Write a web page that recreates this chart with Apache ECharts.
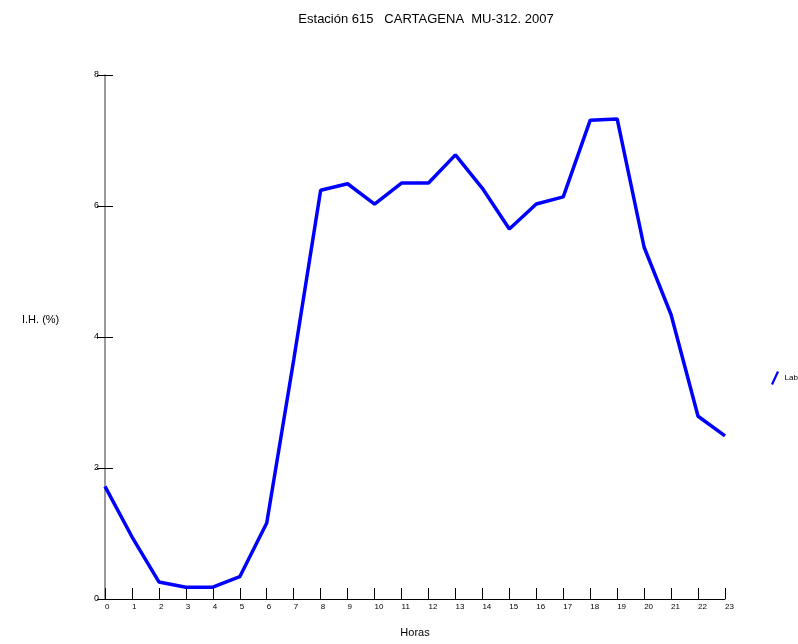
<!DOCTYPE html>
<html>
<head>
<meta charset="utf-8">
<script src="https://cdn.jsdelivr.net/npm/echarts@6/dist/echarts.min.js"></script>
<style>
  html, body { margin: 0; padding: 0; background: #fff; }
  #chart { width: 798px; height: 644px; }
</style>
</head>
<body>
<div id="chart"></div>
<script>
const horas = ['0', '1', '2', '3', '4', '5', '6', '7', '8', '9', '10', '11',
  '12', '13', '14', '15', '16', '17', '18', '19', '20', '21', '22', '23']
const laborables = [1.72, 0.95, 0.26, 0.18, 0.18, 0.34, 1.16, 3.65, 6.24, 6.34, 6.03, 6.35,
  6.35, 6.78, 6.27, 5.65, 6.03, 6.14, 7.31, 7.33, 5.37, 4.34, 2.79, 2.49]

const font = 'Liberation Sans, Arial, sans-serif'
const chart = echarts.init(document.getElementById('chart'))
chart.setOption({
  animation: false,
  title: {
    text: 'Estación 615   CARTAGENA  MU-312. 2007',
    left: 421,
    top: 8,
    textAlign: 'center',
    textStyle: { fontFamily: font, fontSize: 13, fontWeight: 'normal', color: '#000' },
  },
  grid: { left: 105, right: 73, top: 75, bottom: 45 },
  legend: {
    data: ['Laborables'],
    left: 766,
    top: 366,
    itemWidth: 9,
    itemHeight: 14,
    icon: 'path://M0,13 L6,0 L8,1 L2,14 Z',
    textStyle: { fontFamily: font, fontSize: 8, color: '#000' },
  },
  graphic: [
    {
      type: 'text',
      left: 22,
      top: 314,
      style: { text: 'I.H. (%)', fontFamily: font, fontSize: 11, fill: '#000' },
    },
  ],
  xAxis: {
    type: 'category',
    data: horas,
    boundaryGap: false,
    name: 'Horas',
    nameLocation: 'middle',
    nameGap: 28,
    nameTextStyle: { fontFamily: font, fontSize: 11, color: '#000' },
    axisLine: { lineStyle: { color: '#000', width: 1 } },
    axisTick: { inside: true, length: 11, lineStyle: { color: '#000' } },
    axisLabel: {
      fontFamily: font, fontSize: 8, color: '#000', align: 'left', margin: 4,
    },
    splitLine: { show: false },
  },
  yAxis: [
    {
      type: 'value',
      min: 0,
      max: 8,
      interval: 2,
      axisLine: { show: true, lineStyle: { color: '#777', width: 1.5 } },
      axisTick: { show: true, inside: true, length: 8, lineStyle: { color: '#000' } },
      axisLabel: { fontFamily: font, fontSize: 9, color: '#000', margin: 6 },
      splitLine: { show: false },
    },
    {
      type: 'value',
      position: 'left',
      min: 0,
      max: 8,
      interval: 2,
      axisLine: { show: false },
      axisTick: { show: true, length: 8, lineStyle: { color: '#000' } },
      axisLabel: { show: false },
      splitLine: { show: false },
    },
  ],
  series: [
    {
      name: 'Laborables',
      type: 'line',
      data: laborables,
      showSymbol: false,
      symbol: 'none',
      color: '#0000ff',
      lineStyle: { color: '#0000ff', width: 3.5 },
    },
  ],
})
</script>
</body>
</html>
